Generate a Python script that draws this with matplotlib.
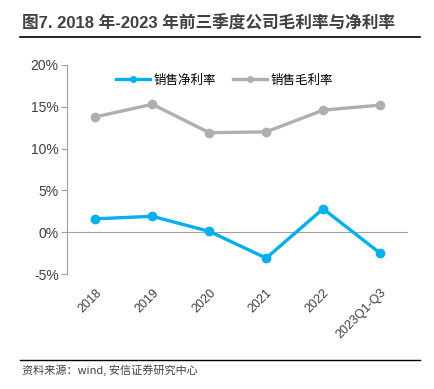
import matplotlib
matplotlib.use("Agg")
import matplotlib.pyplot as plt
from matplotlib.lines import Line2D

plt.rcParams['font.family'] = ['Liberation Sans', 'Noto Sans CJK SC', 'DejaVu Sans']

# Data
years = ["2018", "2019", "2020", "2021", "2022", "2023Q1-Q3"]
net_margin = [1.6, 1.9, 0.1, -3.1, 2.8, -2.5]
gross_margin = [13.8, 15.3, 11.9, 12.0, 14.6, 15.2]
yticks = [-5, 0, 5, 10, 15, 20]

blue = "#00B0F0"
grey = "#AFAFAF"
txt = "#404040"

fig = plt.figure(figsize=(4.34, 3.89), dpi=100)
ax = fig.add_axes([67 / 434, 1 - 274 / 389, (408.5 - 67) / 434, (274 - 65) / 389])

x = list(range(len(years)))
ax.plot(x, net_margin, color=blue, lw=2.4, marker="o", ms=6, zorder=3)
ax.plot(x, gross_margin, color=grey, lw=2.4, marker="o", ms=6, zorder=3)
ax.axhline(0, color="#A0A0A0", lw=0.8, zorder=1)

ax.set_xlim(-0.5, len(years) - 0.5)
ax.set_ylim(-5, 20)
ax.set_yticks(yticks)
ax.set_yticklabels([f"{v}%" for v in yticks], fontsize=10, color=txt)
ax.set_xticks(x)
ax.set_xticklabels(years, rotation=45, ha="right", rotation_mode="anchor", fontsize=9, color=txt)
ax.tick_params(axis="x", length=0, pad=9)
ax.tick_params(axis="y", length=4, color="#A0A0A0", pad=2)

for s in ["top", "right", "bottom"]:
    ax.spines[s].set_visible(False)
ax.spines["left"].set_color("#A0A0A0")
ax.spines["left"].set_linewidth(0.8)

handles = [
    Line2D([], [], color=blue, lw=2.4, marker="o", ms=4),
    Line2D([], [], color=grey, lw=2.4, marker="o", ms=4),
]
ax.legend(handles, ["销售净利率", "销售毛利率"], loc="upper left", bbox_to_anchor=(40 / 341.5, 1.0),
          ncol=2, frameon=False, handlelength=2.7, columnspacing=1.4, handletextpad=0.3,
          borderaxespad=0.3, prop={"family": ["Noto Sans CJK SC"], "size": 9})

# Title and source
fig.text(22 / 434, 1 - 28 / 389, "图7. 2018 年-2023 年前三季度公司毛利率与净利率",
         fontsize=12, fontweight="bold", color=txt,
         family=["Liberation Sans", "Noto Sans CJK SC"])
fig.add_artist(Line2D([20 / 434, 420 / 434], [1 - 37 / 389, 1 - 37 / 389], color="black", lw=1.2))
fig.add_artist(Line2D([20 / 434, 420 / 434], [1 - 360 / 389, 1 - 360 / 389], color="black", lw=1.0))
fig.text(22 / 434, 1 - 374 / 389, "资料来源：wind, 安信证券研究中心", fontsize=8, style="italic",
         color=txt, family=["Noto Sans CJK SC"])

fig.savefig("out.png", dpi=100)
